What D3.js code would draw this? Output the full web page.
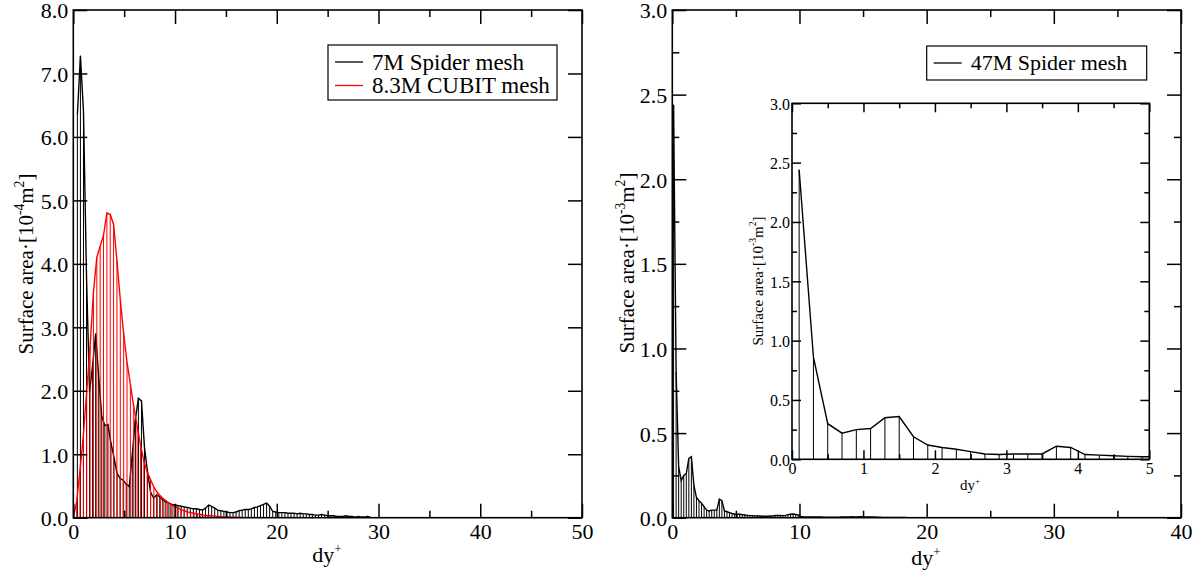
<!DOCTYPE html>
<html>
<head>
<meta charset="utf-8">
<script src="https://cdn.jsdelivr.net/npm/d3@7/dist/d3.min.js"></script>
<style>
body{margin:0;background:#fff;}
text{font-family:"Liberation Serif","Times New Roman",serif;fill:#000;}
</style>
</head>
<body>
<div id="chart"></div>
<script>
// ---- data ----
// left panel: surface area [1e-4 m^2] per dy+ bin
var spider7Start=0.4, spider7Bin=0.3;
var spider7Area=[6.35,7.28,6.40,3.78,1.98,2.40,2.90,2.20,1.60,1.45,1.47,1.18,0.95,0.70,0.62,0.59,0.53,0.49,1.00,1.55,
  1.88,1.84,1.10,0.72,0.40,0.31,0.36,0.33,0.28,0.25,0.23,0.21,0.20,0.19,0.18,0.17,0.16,0.15,0.14,0.14,
  0.13,0.12,0.15,0.20,0.18,0.15,0.12,0.11,0.10,0.09,0.08,0.08,0.09,0.11,0.12,0.13,0.13,0.14,0.16,0.17,
  0.19,0.21,0.23,0.18,0.10,0.09,0.08,0.08,0.08,0.07,0.07,0.07,0.06,0.07,0.06,0.06,0.05,0.05,0.04,0.04,
  0.05,0.04,0.03,0.03,0.03,0.02,0.02,0.02,0.03,0.02,0.02,0.01,0.02,0.01,0.01,0.02,0.01];
var cubitStart=0.0, cubitBin=0.33;
var cubitArea=[0.00,0.25,0.75,1.30,2.00,2.70,3.55,4.10,4.28,4.45,4.80,4.78,4.62,4.05,3.43,2.90,2.45,2.10,1.75,1.45,
  1.15,0.90,0.72,0.60,0.48,0.40,0.34,0.29,0.25,0.21,0.18,0.16,0.13,0.11,0.09,0.08,0.07,0.06,0.05,0.04,
  0.035,0.03,0.025,0.02,0.015,0.01,0.01,0.008,0.006,0.004,0.002,0.0];
// right panel: surface area [1e-3 m^2] per dy+ bin
var spider47Start=0.1, spider47Bin=0.2;
var spider47Area=[2.44,0.86,0.30,0.22,0.25,0.26,0.35,0.36,0.19,0.12,0.10,0.085,0.065,0.045,0.04,0.045,0.045,0.045,0.11,0.10,
  0.04,0.035,0.03,0.025,0.022,0.02,0.02,0.018,0.016,0.014,0.012,0.012,0.011,0.01,0.01,0.009,0.009,0.009,0.01,0.011,
  0.013,0.014,0.013,0.012,0.014,0.018,0.02,0.022,0.02,0.016,0.008,0.006,0.005,0.005,0.005,0.004,0.004,0.004,0.004,0.003,
  0.003,0.003,0.003,0.003,0.003,0.003,0.004,0.004,0.005,0.005,0.006,0.005,0.005,0.006,0.006,0.005,0.004,0.005,0.005,0.004,
  0.003,0.003,0.002,0.002,0.002,0.002,0.001,0.001,0.001,0.001,0.001,0.001,0.0,0.0,0.0,0.0,0.0,0.0,0.0,0.0];

var leftXTicks=[0,10,20,30,40,50], leftXMinor=[5,15,25,35,45];
var leftYTicks=[0,1,2,3,4,5,6,7,8];
var rightXTicks=[0,10,20,30,40], rightXMinor=[5,15,25,35];
var rightYTicks=[0,0.5,1,1.5,2,2.5,3], rightYMinor=[0.25,0.75,1.25,1.75,2.25,2.75];
var insetXTicks=[0,1,2,3,4,5], insetXMinor=[0.5,1.5,2.5,3.5,4.5];

var width=1203, height=577;
var svg=d3.select('#chart').append('svg')
        .attr('width', width)
        .attr('height', height);

function bins(start, step, vals){
    return vals.map(function(v,i){ return [start+i*step, v]; });
}

var clipId=0;
function makePanel(box, xd, yd){
    var p={box:box};
    p.x=d3.scaleLinear().domain(xd).range([box.l, box.r]);
    p.y=d3.scaleLinear().domain(yd).range([box.b, box.t]);
    p.g=svg.append('g');
    p.g.append('rect').attr('x',box.l).attr('y',box.t)
        .attr('width',box.r-box.l).attr('height',box.b-box.t).attr('fill','white');
    clipId++;
    p.clip='clip'+clipId;
    svg.append('clipPath').attr('id',p.clip).append('rect')
        .attr('x',box.l).attr('y',box.t).attr('width',box.r-box.l).attr('height',box.b-box.t);
    return p;
}

function series(p, pts, color){
    var s=p.g.append('g').attr('clip-path','url(#'+p.clip+')');
    s.selectAll('line').data(pts).join('line')
        .attr('x1',d=>p.x(d[0])).attr('x2',d=>p.x(d[0]))
        .attr('y1',p.y(0)).attr('y2',d=>p.y(d[1]))
        .attr('stroke',color).attr('stroke-width',1);
    s.append('path').datum(pts)
        .attr('d', d3.line().x(d=>p.x(d[0])).y(d=>p.y(d[1])))
        .attr('fill','none').attr('stroke',color).attr('stroke-width',1.4);
}

function axes(p, o){
    var b=p.box;
    var fx=d3.format('d'), fy=d3.format('.1f');
    function style(sel, fs){
        sel.attr('font-family',null).attr('font-size',fs);
        sel.select('.domain').remove();
        sel.selectAll('line').attr('stroke-width',1.5);
    }
    var gb=p.g.append('g').attr('transform','translate(0,'+b.b+')')
        .call(d3.axisBottom(p.x).tickValues(o.xt).tickSize(-o.maj).tickSizeOuter(0).tickPadding(o.px).tickFormat(fx));
    style(gb, o.fs);
    var gl=p.g.append('g').attr('transform','translate('+b.l+',0)')
        .call(d3.axisLeft(p.y).tickValues(o.yt).tickSize(-o.maj).tickSizeOuter(0).tickPadding(o.py).tickFormat(fy));
    style(gl, o.fs);
    gl.selectAll('text').attr('dy','0.36em');
    p.g.append('g').attr('transform','translate(0,'+b.t+')')
        .call(d3.axisTop(p.x).tickValues(o.xt).tickSize(-o.maj).tickSizeOuter(0).tickFormat('')).call(style, o.fs);
    p.g.append('g').attr('transform','translate('+b.r+',0)')
        .call(d3.axisRight(p.y).tickValues(o.yt).tickSize(-o.maj).tickSizeOuter(0).tickFormat('')).call(style, o.fs);
    if(o.xm){
        p.g.append('g').attr('transform','translate(0,'+b.b+')')
            .call(d3.axisBottom(p.x).tickValues(o.xm).tickSize(-o.min).tickSizeOuter(0).tickFormat('')).call(style, o.fs);
        p.g.append('g').attr('transform','translate(0,'+b.t+')')
            .call(d3.axisTop(p.x).tickValues(o.xm).tickSize(-o.min).tickSizeOuter(0).tickFormat('')).call(style, o.fs);
    }
    if(o.ym){
        p.g.append('g').attr('transform','translate('+b.l+',0)')
            .call(d3.axisLeft(p.y).tickValues(o.ym).tickSize(-o.min).tickSizeOuter(0).tickFormat('')).call(style, o.fs);
        p.g.append('g').attr('transform','translate('+b.r+',0)')
            .call(d3.axisRight(p.y).tickValues(o.ym).tickSize(-o.min).tickSizeOuter(0).tickFormat('')).call(style, o.fs);
    }
    p.g.append('rect').attr('x',b.l).attr('y',b.t).attr('width',b.r-b.l).attr('height',b.b-b.t)
        .attr('fill','none').attr('stroke','#000').attr('stroke-width',1.6);
}

function yTitle(x, y, fs, expo){
    var t=svg.append('text').attr('transform','translate('+x+','+y+') rotate(-90)')
        .attr('text-anchor','middle').attr('font-size',fs);
    t.append('tspan').text('Surface area\u00b7[10');
    t.append('tspan').attr('dy',-0.45*fs).attr('font-size',fs*0.65).text(expo);
    t.append('tspan').attr('dy',0.45*fs).text('m');
    t.append('tspan').attr('dy',-0.45*fs).attr('font-size',fs*0.65).text('2');
    t.append('tspan').attr('dy',0.45*fs).text(']');
}

function xTitle(x, y, fs){
    var t=svg.append('text').attr('x',x).attr('y',y).attr('text-anchor','middle').attr('font-size',fs);
    t.append('tspan').text('dy');
    t.append('tspan').attr('dy',-0.4*fs).attr('font-size',fs*0.6).text('+');
}

function legend(box, items, fs){
    var g=svg.append('g');
    g.append('rect').attr('x',box.l).attr('y',box.t).attr('width',box.r-box.l).attr('height',box.b-box.t)
        .attr('fill','white').attr('stroke','#000').attr('stroke-width',1.2);
    items.forEach(function(it,i){
        var yy=box.t+box.pad+i*box.row;
        g.append('line').attr('x1',box.l+7).attr('x2',box.l+35).attr('y1',yy).attr('y2',yy)
            .attr('stroke',it.color).attr('stroke-width',1.3);
        g.append('text').attr('x',box.l+44).attr('y',yy+0.33*fs).attr('font-size',fs).text(it.name);
    });
}

// ---- left panel ----
var left=makePanel({l:73.3, r:582, t:10, b:517.7}, [0,50], [0,8]);
series(left, bins(spider7Start, spider7Bin, spider7Area), '#000');
series(left, bins(cubitStart, cubitBin, cubitArea), '#ff0000');
axes(left, {xt:leftXTicks, xm:leftXMinor, yt:leftYTicks, maj:14, min:7, fs:22, px:6, py:5});
yTitle(33, 264, 21, '-4');
xTitle(327, 562, 22);
legend({l:328, r:557, t:45, b:100, pad:17, row:23.5}, [
    {name:'7M Spider mesh', color:'#000'},
    {name:'8.3M CUBIT mesh', color:'#ff0000'}], 23);

// ---- right panel ----
var right=makePanel({l:672.3, r:1181, t:10, b:517.7}, [0,40], [0,3]);
series(right, bins(spider47Start, spider47Bin, spider47Area), '#000');
axes(right, {xt:rightXTicks, xm:rightXMinor, yt:rightYTicks, ym:rightYMinor, maj:14, min:7, fs:22, px:6, py:5});
yTitle(634, 263, 21, '-3');
xTitle(926, 565, 22);
legend({l:926.7, r:1146.7, t:46, b:80, pad:17, row:0}, [
    {name:'47M Spider mesh', color:'#000'}], 22);

// ---- inset ----
var inset=makePanel({l:792, r:1149.3, t:103.3, b:459.3}, [0,5], [0,3]);
series(inset, bins(spider47Start, spider47Bin, spider47Area), '#000');
axes(inset, {xt:insetXTicks, xm:insetXMinor, yt:rightYTicks, ym:rightYMinor, maj:9, min:5, fs:16, px:3, py:2});
yTitle(763, 281, 15, '-3');
xTitle(970, 490, 15);
</script>
</body>
</html>
